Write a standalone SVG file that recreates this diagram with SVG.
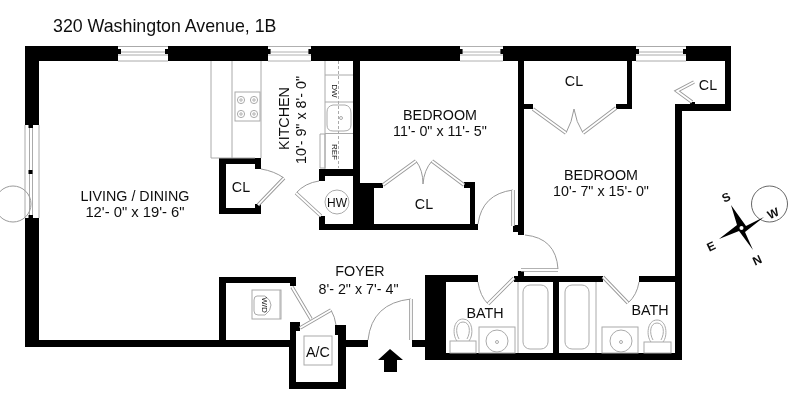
<svg xmlns="http://www.w3.org/2000/svg" width="789" height="400" viewBox="0 0 789 400">
<style>
text{font-family:"Liberation Sans",Arial,sans-serif;fill:#111;text-anchor:middle}
.t{font-size:14.3px}
.m{font-size:14.800px}
.s{font-size:8px}
.c{font-weight:bold;font-size:12px}
.w{fill:#000;stroke:none}
.g{fill:none;stroke:#aaa;stroke-width:1}
.a{fill:none;stroke:#999;stroke-width:1}
.lo{fill:none;stroke:#999;stroke-width:3.6}
.li{fill:none;stroke:#fff;stroke-width:1.8}
.d{fill:none;stroke:#aaa;stroke-width:1;stroke-dasharray:3 2}
</style>
<defs>
<filter id="soft" x="0" y="0" width="100%" height="100%"><feGaussianBlur stdDeviation="0.35"/></filter>
<path id="leaves" d="M284 178L258 205M296 193L321 216M292 287L311 319M300 328L331 310M383 185L416 161M432 161L464 185M533 109L566 133M583 133L616 108M692 102L677 91L694 82M411 299V340M513 190V226M521 270H558M488 304L514 278M603 277L628 303"/>
<g id="burner"><circle r="3.6" class="g"/><circle r="1.2" class="g"/></g>
<g id="winH"><rect x="0" y="46" width="50" height="15" fill="#fff" stroke="none"/><path class="g" d="M0 46.500H50M0 52H50M0 55H50M0 61H50"/><path class="w" d="M0 49H3V54H0ZM47 49H50V54H47Z"/></g>
</defs>
<rect width="789" height="400" fill="#fff"/>
<g filter="url(#soft)">
<text id="title" x="53" y="32" style="font-size:17.800px;text-anchor:start">320 Washington Avenue, 1B</text>
<g id="windows">
<use href="#winH" x="118"/>
<use href="#winH" transform="translate(268 0) scale(.86 1)"/>
<use href="#winH" transform="translate(460 0) scale(.86 1)"/>
<use href="#winH" transform="translate(636 0)"/>
<rect x="25" y="125" width="14" height="93" fill="#fff"/>
<path class="g" d="M25 125V218M29.500 125V218M32.500 125V218M39 125V218"/>
<path class="w" d="M28.500 125H33V128H28.500ZM28.500 215H33V218H28.500ZM28.500 170H32.500V174H28.500Z"/>
</g>
<g id="walls">
<path class="w" d="M25 46H118V61H39V125H25ZM25 218H39V340H290V322H300V331H296V382H338V335H335V325H346V340H368V347H346V389H289V347H25ZM168 46H268V61H168ZM311 46H460V61H311ZM503 46H636V61H503ZM686 46H731V111H682V360H425V340H412V347H425V275H478V282H446V353H553V282H514V276H518V271H524V276H603V282H559V353H675V282H639V276H675V104H725V61H686Z"/>
<path class="w" d="M353 61H360V183H383V188H374V224H470V188H464V182H475V224H478V230H319V216H325V224H353ZM518 61H524V104H533V109H524V235H518V232H513V225H518ZM627 61H632V109H616V104H627ZM319 169H353V176H325V181H319ZM219 158H261V169H255V164H226V208H255V204H261V214H219ZM219 277H296V286H290V283H226V340H219Z"/>
<path class="w" d="M690 102H695V104H690Z"/>
</g>
<g id="doors">
<path class="a" d="M261 169Q274 171 284 178M319 181Q305 183 296 193M331 310Q335 317 336 325M416 161Q423 170 423 184Q424 170 432 161M566 133Q572 122 574 109Q576 122 583 133M368 340Q372 303 411 299M478 224Q482 194 513 190M525 235Q556 238 558 269M478 282Q480 296 488 304M628 303Q637 295 639 282"/>
<g class="lo"><use href="#leaves"/></g>
<g class="li"><use href="#leaves"/></g>
</g>
<g id="kitchen-fixtures">
<path class="g" d="M211 61V158H255M232 61V158M261 61V158"/>
<rect x="235" y="92" width="25" height="29" class="g"/>
<use href="#burner" x="241" y="100"/><use href="#burner" x="254" y="100"/><use href="#burner" x="241" y="114"/><use href="#burner" x="254" y="114"/>
<path class="g" d="M325 61V169M325 75H353M325 102H353M325 133.500H353M320 134H325V168H320Z"/>
<path class="d" d="M338.500 61V168"/>
<path class="g" d="M333 105H345Q351 106 351 113V125Q351 131 344 131H333Q327 131 327 125V112Q327 106 333 105Z"/>
<circle cx="341" cy="118" r="1.500" class="g"/>
<text class="s" transform="translate(332 91) rotate(90)">DW</text>
<text class="s" transform="translate(332 152) rotate(90)">REF</text>
</g>
<g id="hw"><circle cx="337" cy="202" r="12" class="g"/><text x="337" y="207" style="font-size:12px">HW</text></g>
<g id="wd">
<rect x="252" y="290" width="29" height="29" class="g"/><path class="g" d="M280 290V319M265 296H257Q254 296 254 300V311Q254 315 258 315H265Q271 311 271 305Q271 300 265 296Z"/>
<text class="s" transform="translate(262 305) rotate(90)">W/D</text>
</g>
<g id="ac"><rect x="304" y="336" width="28" height="29" class="g"/><text x="318" y="357" class="t">A/C</text></g>
<g id="bath-fixtures">
<path class="g" d="M518 282V353M596 282V353"/>
<rect x="523" y="285" width="25" height="64" rx="7" class="g"/>
<rect x="565" y="285" width="24" height="64" rx="7" class="g"/>
<rect x="479" y="327" width="36" height="26" class="g"/><circle cx="497" cy="341" r="11" class="g"/><circle cx="497" cy="342" r="1.500" class="g"/>
<rect x="602" y="327" width="36" height="26" class="g"/><circle cx="621" cy="341" r="11" class="g"/><circle cx="621" cy="342" r="1.500" class="g"/>
<rect x="450" y="341" width="26" height="12" class="g"/><path class="g" d="M457 341C452 335 453 319 463 319C473 319 474 335 469 341M459 339C455 332 456 322 463 322C470 322 471 332 467 339"/>
<rect x="644" y="342" width="27" height="11" class="g"/><path class="g" d="M651 342C646 336 647 320 657 320C667 320 668 336 663 342M653 340C649 333 650 323 657 323C664 323 665 333 661 340"/>
</g>
<g id="labels">
<text x="135" y="201" class="t">LIVING / DINING</text>
<text x="135" y="217" class="m">12'- 0" x 19'- 6"</text>
<text class="t" transform="translate(289 118.500) rotate(-90)">KITCHEN</text>
<text class="t" transform="translate(306 120) rotate(-90)">10'- 9" x 8'- 0"</text>
<text x="241" y="192" class="t">CL</text>
<text x="440" y="120" class="t">BEDROOM</text>
<text x="440" y="136" class="t">11'- 0" x 11'- 5"</text>
<text x="424" y="209" class="t">CL</text>
<text x="574" y="86" class="t">CL</text>
<text x="708" y="90" class="t">CL</text>
<text x="601" y="180" class="t">BEDROOM</text>
<text x="601" y="196" class="t">10'- 7" x 15'- 0"</text>
<text x="360" y="276" class="t">FOYER</text>
<text x="358.500" y="294" class="t">8'- 2" x 7'- 4"</text>
<text x="485" y="318" class="t">BATH</text>
<text x="650" y="315" class="t">BATH</text>
</g>
<path id="entry" class="w" d="M390 349L403 360H397V372H384V360H378Z"/>
<g id="compass">
<circle cx="13" cy="204" r="18" class="a"/>
<circle cx="769.500" cy="204" r="18" fill="#fff" stroke="#666"/>
<path class="w" d="M731 205L746 226L764 217L745 232L753 250L739 231L719 239L737 225Z"/>
<circle cx="741.500" cy="228" r="2" fill="#fff"/>
<text class="c" transform="translate(728 201) rotate(-25)">S</text>
<text class="c" transform="translate(759 264) rotate(-25)">N</text>
<text class="c" transform="translate(713 250) rotate(-25)">E</text>
<text class="c" transform="translate(775 217) rotate(-25)">W</text>
</g>
</g>
</svg>
